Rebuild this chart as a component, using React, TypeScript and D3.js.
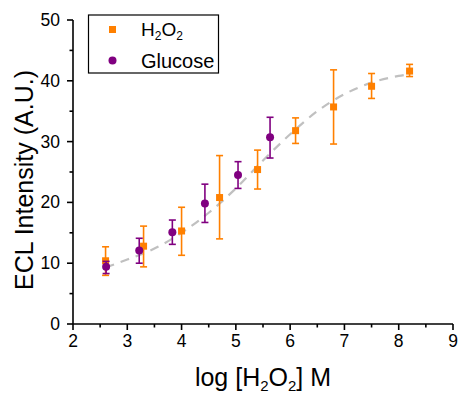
import React from "react";
import * as d3 from "d3";

const width = 461;
const height = 395;
const margin = { top: 20, right: 8, bottom: 71, left: 73 };

// H2O2 series: log conc, mean, low, high
const h2o2X = [2.6, 3.3, 4.0, 4.7, 5.4, 6.1, 6.8, 7.5, 8.2];
const h2o2Y = [10.4, 12.8, 15.3, 20.8, 25.4, 31.8, 35.7, 39.1, 41.6];
const h2o2Lo = [8.0, 9.4, 11.3, 14.0, 22.2, 29.7, 29.6, 37.1, 40.7];
const h2o2Hi = [12.7, 16.1, 19.2, 27.7, 28.6, 33.9, 41.8, 41.2, 42.7];

// Glucose series
const gluX = [2.61, 3.22, 3.83, 4.43, 5.04, 5.63];
const gluY = [9.4, 12.1, 15.1, 19.8, 24.5, 30.7];
const gluLo = [8.3, 10.0, 13.1, 16.7, 22.3, 27.3];
const gluHi = [10.3, 14.1, 17.1, 23.0, 26.7, 34.0];

// fitted curve
const fitX = [2.6, 3.0, 3.5, 4.0, 4.5, 5.0, 5.5, 6.0, 6.5, 7.0, 7.5, 8.0, 8.2];
const fitY = [9.3, 10.6, 12.4, 15.0, 18.3, 22.3, 26.9, 31.2, 35.0, 37.8, 39.7, 40.8, 41.1];

const xTicks = [2, 3, 4, 5, 6, 7, 8, 9];
const xMinor = [2.5, 3.5, 4.5, 5.5, 6.5, 7.5, 8.5];
const yTicks = [0, 10, 20, 30, 40, 50];
const yMinor = [5, 15, 25, 35, 45];

const orange = "#ff8000";
const purple = "#800080";
const font = "Liberation Sans, Arial, sans-serif";

export default function App() {
  const x = d3.scaleLinear().domain([2, 9]).range([margin.left, width - margin.right]);
  const y = d3.scaleLinear().domain([0, 50]).range([height - margin.bottom, margin.top]);
  const x0 = margin.left;
  const y0 = height - margin.bottom;

  const fitLine = d3
    .line<number>()
    .x((d) => x(fitX[d]))
    .y((d) => y(fitY[d]))
    .curve(d3.curveMonotoneX);

  const errBar = (cx: number, lo: number, hi: number, color: string, key: string) => (
    <g key={key} stroke={color} strokeWidth={1.6}>
      <line x1={x(cx)} x2={x(cx)} y1={y(lo)} y2={y(hi)} />
      <line x1={x(cx) - 3.5} x2={x(cx) + 3.5} y1={y(lo)} y2={y(lo)} />
      <line x1={x(cx) - 3.5} x2={x(cx) + 3.5} y1={y(hi)} y2={y(hi)} />
    </g>
  );

  return (
    <svg width={width} height={height} style={{ position: "absolute", left: 0, top: 0 }} fontFamily={font}>
      <rect width={width} height={height} fill="#fff" />

      <path
        d={fitLine(fitX.map((_, i) => i)) || ""}
        fill="none"
        stroke="#c0c0c0"
        strokeWidth={2.2}
        strokeDasharray="9,7"
      />

      {h2o2X.map((d, i) => errBar(d, h2o2Lo[i], h2o2Hi[i], orange, "he" + i))}
      {h2o2X.map((d, i) => (
        <rect key={"h" + i} x={x(d) - 3.5} y={y(h2o2Y[i]) - 3.5} width={7} height={7} fill={orange} />
      ))}
      {gluX.map((d, i) => errBar(d, gluLo[i], gluHi[i], purple, "ge" + i))}
      {gluX.map((d, i) => (
        <circle key={"g" + i} cx={x(d)} cy={y(gluY[i])} r={4} fill={purple} />
      ))}

      {/* axes */}
      <g stroke="#000" strokeWidth={1.6}>
        <line x1={x0} x2={width - margin.right} y1={y0} y2={y0} />
        <line x1={x0} x2={x0} y1={y0} y2={margin.top} />
        {xTicks.map((t) => (
          <line key={"xt" + t} x1={x(t)} x2={x(t)} y1={y0} y2={y0 + 6} />
        ))}
        {xMinor.map((t) => (
          <line key={"xm" + t} x1={x(t)} x2={x(t)} y1={y0} y2={y0 + 3.5} />
        ))}
        {yTicks.map((t) => (
          <line key={"yt" + t} x1={x0 - 6} x2={x0} y1={y(t)} y2={y(t)} />
        ))}
        {yMinor.map((t) => (
          <line key={"ym" + t} x1={x0 - 3.5} x2={x0} y1={y(t)} y2={y(t)} />
        ))}
      </g>
      {xTicks.map((t) => (
        <text key={"xl" + t} x={x(t)} y={y0 + 23} textAnchor="middle" fontSize={17.5}>
          {t}
        </text>
      ))}
      {yTicks.map((t) => (
        <text key={"yl" + t} x={x0 - 13} y={y(t) + 6} textAnchor="end" fontSize={17.5}>
          {t}
        </text>
      ))}

      <text x={(x0 + width - margin.right) / 2} y={386} textAnchor="middle" fontSize={25}>
        log [H<tspan fontSize={15} dy={5}>2</tspan>
        <tspan dy={-5}>O</tspan>
        <tspan fontSize={15} dy={5}>2</tspan>
        <tspan dy={-5}>] M</tspan>
      </text>
      <text transform={`translate(33,${(margin.top + y0) / 2 + 8}) rotate(-90)`} textAnchor="middle" fontSize={25}>
        ECL Intensity (A.U.)
      </text>

      {/* legend */}
      <rect x={88.5} y={15} width={130} height={58} fill="#fff" stroke="#000" strokeWidth={1.2} />
      <rect x={109} y={26} width={7} height={7} fill={orange} />
      <circle cx={112.5} cy={60.5} r={4} fill={purple} />
      <text x={141} y={36} fontSize={19}>
        H<tspan fontSize={12} dy={4}>2</tspan>
        <tspan dy={-4}>O</tspan>
        <tspan fontSize={12} dy={4}>2</tspan>
      </text>
      <text x={141} y={68} fontSize={20}>
        Glucose
      </text>
    </svg>
  );
}
